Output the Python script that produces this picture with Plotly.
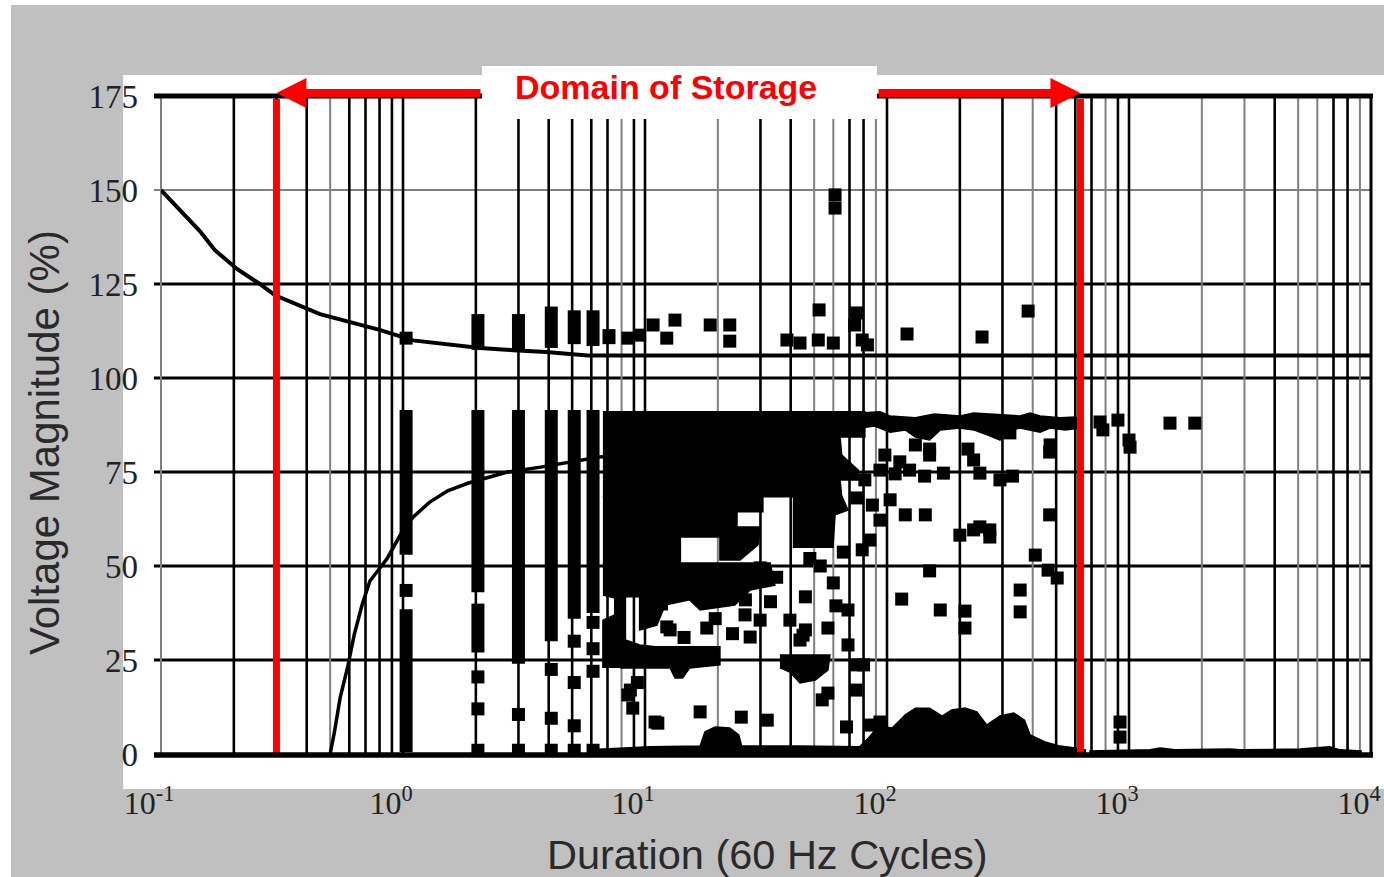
import math
import plotly.graph_objects as go

# ---------------- data ----------------
x_tick_vals = [0.1, 1, 10, 100, 1000, 10000]
x_tick_text = ["10<sup>-1</sup>", "10<sup>0</sup>", "10<sup>1</sup>", "10<sup>2</sup>", "10<sup>3</sup>", "10<sup>4</sup>"]
y_tick_vals = [0, 25, 50, 75, 100, 125, 150, 175]

# tolerance curves
upper_x = [0.1, 0.123, 0.145, 0.167, 0.206, 0.256, 0.296, 0.454, 0.8, 1.1, 1.52, 2.08, 2.85, 3.9, 5.8, 10000]
upper_y = [150, 144, 139, 134, 129, 125, 122, 117, 112.8, 110, 109, 108, 107.4, 106.9, 106, 106]
lower_x = [0.50, 0.52, 0.55, 0.59, 0.63, 0.68, 0.73, 0.86, 1.0, 1.1, 1.29, 1.53, 1.85, 2.7, 3.7, 4.7, 6.5, 8.0]
lower_y = [0, 5.6, 15, 23, 32, 40, 46, 52, 59.5, 63, 67, 70, 72, 75, 76.3, 77.4, 79, 79.5]

# storage domain bounds (cycles)
storage_bounds = [0.3, 630]

# stacked events at discrete durations (low/high extents)
bar_x = [1.03, 1.03, 2.04, 2.04, 3.0, 4.1, 5.1, 6.1, 2.04, 3.0, 4.1, 5.1, 6.1, 7.1]
bar_lo = [53, 0.5, 43, 27, 24, 30, 36, 37.5, 107.5, 107.5, 108, 109, 108.5, 109]
bar_hi = [91.5, 38.5, 91.5, 40, 91.5, 91.5, 91.5, 91.5, 117, 117, 119, 118, 118, 113]

# dense event regions (outlines)
dense_a_x = [6.7, 81, 81, 64, 65, 76, 76, 64, 65, 6.7]
dense_a_y = [91, 91, 84.3, 84.3, 79.5, 75.5, 72.9, 72.9, 68.4, 68.4]
dense_b_x = [6.7, 30.7, 30.7, 24.0, 24.0, 29.9, 29.3, 24.7, 20.4, 20.4, 14.0, 14.0, 6.7]
dense_b_y = [68.4, 68.4, 64.4, 64.4, 60.4, 60.4, 55.6, 51.6, 51.6, 57.7, 57.7, 50.8, 50.8]
dense_b2_x = [40.8, 65.2, 69, 61, 59.8, 40.8]
dense_b2_y = [68.4, 68.4, 64.9, 63.6, 55, 55]
dense_c_x = [6.7, 32.9, 34.4, 27.2, 23.5, 16.9, 15.3, 12.1, 11.2, 9.5, 9.5, 8.3, 8.3, 9.5, 11.2, 11.2, 6.7, 6.7, 7.5, 7.5, 6.7]
dense_c_y = [50.8, 50.8, 44.9, 43.6, 39.6, 38.3, 41.0, 39.6, 34.3, 33.0, 41.8, 41.8, 30.3, 29.0, 28.5, 23.1, 23.1, 35.6, 37.0, 41.5, 42.3]
dense_d_x = [7.9, 20.4, 20.4, 15.3, 14.3, 13.3, 12.7, 7.9]
dense_d_y = [28.5, 28.5, 23.7, 22.9, 20.2, 20.2, 22.9, 22.9]
dense_e_x = [36.1, 58.1, 57, 50.5, 43.7, 39.7, 36.1]
dense_e_y = [26.3, 26.3, 22.3, 19.7, 18.9, 21.8, 22.9]
band_top_x = [77.3, 93.5, 103, 131, 157, 200, 228, 293, 355, 390, 429, 519, 600, 628,
              628, 545, 472, 429, 355, 305, 293, 266, 228, 200, 166, 150, 131, 119, 103, 89, 77.3]
band_top_y = [90.7, 91, 89.9, 89.4, 90.4, 89.9, 90.7, 90.2, 89.9, 90.7, 89.9, 89.4, 89.6, 88.8,
              86.7, 86.2, 86.7, 85.6, 86.7, 85.6, 83.5, 84.6, 86.2, 86.7, 86.2, 83.5, 84.3, 86.2, 85.6, 87.2, 86.7]
band_low_x = [6.5, 6.5, 10.5, 16.9, 17.7, 19.5, 22.4, 24.4, 25.1, 43.7, 77, 84, 92, 105, 119, 131, 150,
              169, 185, 210, 235, 258, 293, 334, 370, 390, 450, 519, 600, 660, 660]
band_low_y = [0, 1.3, 1.9, 2.1, 5.9, 7.2, 6.9, 5.1, 2.1, 2.1, 1.9, 4.3, 7.4, 6.9, 10.4, 12.2, 12.2,
              10.1, 11.7, 12.2, 11.2, 7.7, 10.1, 10.9, 9, 5.1, 3.2, 2.1, 1.6, 1.1, 0]
band_right_x = [690, 690, 1221, 1343, 1550, 2620, 2880, 5090, 6740, 7450, 9100, 9100]
band_right_y = [0, 0.8, 1.1, 1.6, 1.1, 1.3, 1.1, 1.3, 1.9, 1.1, 0.8, 0]

# individual events
event_x = [1.03, 8.5, 9.5, 10.8, 12.3, 13.3, 18.6, 22.4, 22.4, 38.6, 43.7, 52.4, 52, 60, 75, 73.5, 79, 83,
           121, 247, 383, 61, 61,
           1.03, 2.04, 2.04, 2.04, 3.0, 3.0, 4.1, 4.1, 4.1, 5.1, 5.1, 5.1, 5.1, 6.1, 6.1, 6.1, 6.1,
           8.7, 8.9, 11, 16.9, 25, 32, 54, 68, 93.5, 61.5, 45, 39.7, 43.7, 46, 60, 66, 27.2, 57, 29.9,
           26, 22.4, 16.4, 15.3, 12.3, 11.7, 7.7, 74.5, 80, 69, 74.5, 79, 85, 75, 87, 103, 119, 93.5,
           81, 93.5, 108, 124, 143, 171, 242, 330, 293, 131, 150, 150, 216, 228, 322, 470, 472, 98, 113,
           780, 759, 900, 1000, 1010, 1477, 1870, 470, 144, 242, 266, 115, 166, 210, 210, 355, 355,
           410, 463, 505, 150, 200, 228, 266, 918, 918,
           8.5, 11.3, 12.7, 25.9, 29.9, 46, 69, 85, 57, 35, 19.5, 23, 14.5, 18, 9.3, 33, 53, 48]
event_y = [110.6, 110.6, 111.4, 114.1, 110.6, 115.4, 114.1, 114.1, 109.8, 110.1, 109.3, 118.1, 110.1, 109.3,
           117.3, 114.1, 110.1, 108.8, 111.7, 110.9, 117.8, 148.7, 145.2,
           43.5, 20.5, 12, 1, 10.5, 1, 22.5, 9.5, 1, 30, 19, 7.5, 1, 35, 28, 22, 1,
           17, 12.2, 8.5, 11.2, 9.8, 9, 14.4, 7.2, 8.5, 39.4, 31.6, 35.6, 30.3, 41.8, 45.5, 53.7, 31.1, 33.5,
           49.5, 41, 43.6, 47.9, 44.1, 33.8, 39.9, 31.1, 23.7, 23.7, 29, 17, 54.3, 56.9, 68.1, 66.2, 67.6,
           63.6, 62.2, 72.9, 75.5, 74.5, 75.5, 73.9, 74.7, 74.7, 73.9, 72.9, 82.2, 79.5, 81.1, 81.1, 78.2,
           85.4, 80.3, 82.2, 79.5, 77.7, 86.2, 88.3, 88.8, 83.5, 81.6, 88, 88, 63.6, 63.6, 60.4, 59.6,
           41.2, 38.3, 38, 33.5, 43.6, 37.8, 52.9, 48.9, 46.8, 48.7, 58.2, 59.6, 57.7, 8.5, 4.5,
           15.7, 8.2, 33, 37, 35.6, 33, 38.3, 7.7, 16.2, 47, 36, 32, 31, 33.5, 19, 40.5, 50, 52]

# ---------------- figure ----------------
W, H = 1384, 877
ML, MR, MT, MB = 161, 13, 96, 123
PW, PH = W - ML - MR, H - MT - MB


def px_x(p):
    return (p - ML) / PW


def px_y(p):
    return (H - MB - p) / PH


fig = go.Figure()

# vertical grid lines (1..9 per decade)
gray_lines = {0.1, 0.5, 8, 20, 50, 60, 90, 400, 800, 2000, 3000, 5000, 6000, 9000}
gx_black, gy_black, gx_gray, gy_gray = [], [], [], []
for d in range(-1, 4):
    for k in range(1, 10):
        v = round(k * 10 ** d, 6)
        if v in gray_lines:
            gx_gray += [v, v, None]
            gy_gray += [0, 175, None]
        else:
            gx_black += [v, v, None]
            gy_black += [0, 175, None]
fig.add_trace(go.Scatter(x=gx_gray, y=gy_gray, mode="lines",
                         line=dict(color="#808080", width=2), hoverinfo="skip"))
fig.add_trace(go.Scatter(x=gx_black, y=gy_black, mode="lines",
                         line=dict(color="#000000", width=2.6), hoverinfo="skip"))

# dense regions
for px_, py_ in [(dense_a_x, dense_a_y), (dense_b_x, dense_b_y), (dense_b2_x, dense_b2_y),
                 (dense_c_x, dense_c_y), (dense_d_x, dense_d_y), (dense_e_x, dense_e_y),
                 (band_top_x, band_top_y), (band_low_x, band_low_y), (band_right_x, band_right_y)]:
    fig.add_trace(go.Scatter(x=px_, y=py_, mode="lines", fill="toself", fillcolor="black",
                             line=dict(color="black", width=1.5), hoverinfo="skip"))

# stacked event bars
bx, by = [], []
for xv, lo, hi in zip(bar_x, bar_lo, bar_hi):
    bx += [xv, xv, None]
    by += [lo, hi, None]
fig.add_trace(go.Scatter(x=bx, y=by, mode="lines", line=dict(color="black", width=13), hoverinfo="skip"))

# individual events
fig.add_trace(go.Scatter(x=event_x, y=event_y, mode="markers",
                         marker=dict(symbol="square", size=13, color="black", line=dict(width=0)),
                         hoverinfo="skip"))

# curves
fig.add_trace(go.Scatter(x=upper_x, y=upper_y, mode="lines", line=dict(color="black", width=4)))
fig.add_trace(go.Scatter(x=lower_x, y=lower_y, mode="lines", line=dict(color="black", width=3.5)))

# storage domain vertical red lines
for b in storage_bounds:
    fig.add_trace(go.Scatter(x=[b, b], y=[-1, 174.2], mode="lines",
                             line=dict(color="#ff0000", width=7), hoverinfo="skip"))

shapes = []
# background: white border, gray frame, white inner panel
shapes.append(dict(type="rect", xref="paper", yref="paper", x0=px_x(0), x1=px_x(W), y0=px_y(H), y1=px_y(0),
                   fillcolor="white", line=dict(width=0), layer="below"))
shapes.append(dict(type="rect", xref="paper", yref="paper", x0=px_x(11), x1=px_x(W), y0=px_y(H), y1=px_y(5),
                   fillcolor="#c0c0c0", line=dict(width=0), layer="below"))
shapes.append(dict(type="rect", xref="paper", yref="paper", x0=px_x(123), x1=px_x(W), y0=px_y(789), y1=px_y(75),
                   fillcolor="white", line=dict(width=0), layer="below"))
# horizontal grid lines
for v in y_tick_vals[1:-1]:
    shapes.append(dict(type="line", xref="paper", yref="paper", x0=px_x(154), x1=1, y0=v / 175, y1=v / 175,
                       line=dict(color="#808080" if v == 150 else "black", width=2 if v == 150 else 2.8),
                       layer="below"))
# frame edges
shapes.append(dict(type="line", xref="paper", yref="paper", x0=0, x1=0, y0=0, y1=1,
                   line=dict(color="#808080", width=2), layer="below"))
shapes.append(dict(type="line", xref="paper", yref="paper", x0=1, x1=1, y0=0, y1=1,
                   line=dict(color="black", width=3), layer="above"))
shapes.append(dict(type="line", xref="paper", yref="paper", x0=px_x(154), x1=px_x(1373), y0=1, y1=1,
                   line=dict(color="black", width=5), layer="above"))
shapes.append(dict(type="line", xref="paper", yref="paper", x0=px_x(154), x1=px_x(1373), y0=px_y(755), y1=px_y(755),
                   line=dict(color="black", width=5.5), layer="above"))
# label box
shapes.append(dict(type="rect", xref="paper", yref="paper", x0=px_x(482), x1=px_x(877), y0=px_y(119), y1=px_y(66),
                   fillcolor="white", line=dict(width=0), layer="above"))

left_tip = (math.log10(storage_bounds[0]) + 1) / 5
right_tip = (math.log10(storage_bounds[1]) + 1) / 5
arrow_y = px_y(93)

annotations = [
    dict(xref="paper", yref="paper", x=left_tip, y=arrow_y, ax=482 - (ML + left_tip * PW), ay=0,
         axref="pixel", ayref="pixel", text="", showarrow=True, arrowhead=2, arrowsize=0.75,
         arrowwidth=8, arrowcolor="#ff0000", standoff=0),
    dict(xref="paper", yref="paper", x=right_tip, y=arrow_y, ax=877 - (ML + right_tip * PW), ay=0,
         axref="pixel", ayref="pixel", text="", showarrow=True, arrowhead=2, arrowsize=0.75,
         arrowwidth=8, arrowcolor="#ff0000", standoff=0),
    dict(xref="paper", yref="paper", x=px_x(666), y=px_y(87), text="<b>Domain of Storage</b>",
         showarrow=False, font=dict(family="Liberation Sans, Arial", size=34, color="#ff0000"),
         xanchor="center", yanchor="middle"),
    dict(xref="paper", yref="paper", x=px_x(767), y=px_y(854), text="Duration (60 Hz Cycles)",
         showarrow=False, font=dict(family="Liberation Sans, Arial", size=41.5, color="#2a2a2a"),
         xanchor="center", yanchor="middle"),
    dict(xref="paper", yref="paper", x=px_x(44), y=px_y(443), text="Voltage Magnitude (%)",
         showarrow=False, textangle=-90, font=dict(family="Liberation Sans, Arial", size=42, color="#2a2a2a"),
         xanchor="center", yanchor="middle"),
]

fig.update_layout(
    width=W, height=H, autosize=False,
    margin=dict(l=ML, r=MR, t=MT, b=MB, pad=0, autoexpand=False),
    paper_bgcolor="#c0c0c0", plot_bgcolor="white",
    showlegend=False,
    shapes=shapes, annotations=annotations,
    xaxis=dict(type="log", range=[-1, 4], showgrid=False, zeroline=False, showline=False,
               automargin=False,
               tickvals=x_tick_vals, ticktext=x_tick_text, ticks="",
               ticklabelstandoff=27, ticklabelshift=-12, ticklabeloverflow="allow",
               tickfont=dict(family="Liberation Serif, Times New Roman", size=32, color="#222")),
    yaxis=dict(range=[0, 175], showgrid=False, zeroline=False, showline=False,
               automargin=False,
               tickvals=y_tick_vals, ticks="", ticklabelstandoff=22,
               tickfont=dict(family="Liberation Serif, Times New Roman", size=33, color="#222")),
)

fig.write_html("out.html", config={"displayModeBar": False},
               post_script="document.body.style.margin='0';document.body.style.padding='0';document.body.style.overflow='hidden';")
